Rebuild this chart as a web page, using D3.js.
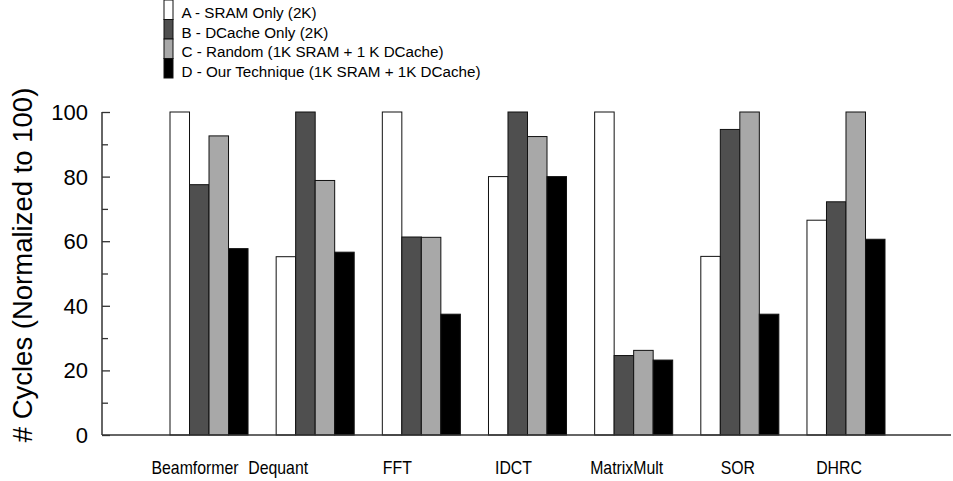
<!DOCTYPE html>
<html>
<head>
<meta charset="utf-8">
<script src="https://cdn.jsdelivr.net/npm/d3@7"></script>
<style>
  html, body { margin: 0; padding: 0; background: #fff; }
  svg { display: block; font-family: "Liberation Sans", Arial, sans-serif; }
</style>
</head>
<body>
<svg id="chart" width="953" height="481"></svg>
<script>
// ---- data ----
const categories = ["Beamformer", "Dequant", "FFT", "IDCT", "MatrixMult", "SOR", "DHRC"];
const seriesNames = [
  "A - SRAM Only (2K)",
  "B - DCache Only (2K)",
  "C - Random (1K SRAM + 1 K DCache)",
  "D - Our Technique (1K SRAM + 1K DCache)"
];
const seriesA = [100, 55.2, 100, 80.0, 100, 55.3, 66.5];
const seriesB = [77.5, 100, 61.3, 100, 24.6, 94.6, 72.2];
const seriesC = [92.6, 78.8, 61.2, 92.4, 26.2, 100, 100];
const seriesD = [57.7, 56.6, 37.4, 80.0, 23.2, 37.4, 60.6];
const yTicks = [0, 20, 40, 60, 80, 100];
const yMinorTicks = [10, 30, 50, 70, 90];

// ---- layout / style ----
const colors = ["#ffffff", "#4f4f4f", "#a8a8a8", "#000000"];
const labelOffsets = [-14, -37, -24, -14, -7, -2, -7];
const axisX = 102, axisRight = 951;
const yTop = 112, yBottom = 435;

const svg = d3.select("#chart");
const allSeries = [seriesA, seriesB, seriesC, seriesD];

const x = d3.scaleBand().domain(categories).range([170, 885]).paddingInner(0.265).paddingOuter(0);
const xs = d3.scaleBand().domain(d3.range(4)).range([0, x.bandwidth()]).padding(0);
const y = d3.scaleLinear().domain([0, 100]).range([yBottom, yTop]);

// bars
const g = svg.append("g");
categories.forEach((c, i) => {
  allSeries.forEach((s, j) => {
    g.append("rect")
      .attr("x", x(c) + xs(j))
      .attr("y", y(s[i]))
      .attr("width", xs.bandwidth())
      .attr("height", y(0) - y(s[i]))
      .attr("fill", colors[j])
      .attr("stroke", "#111")
      .attr("stroke-width", 1);
  });
});

// y axis
const yAxis = d3.axisRight(y).tickValues(yTicks).tickSize(8).tickFormat("");
const ya = svg.append("g").attr("transform", `translate(${axisX},0)`).call(yAxis);
ya.select(".domain").remove();
ya.selectAll(".tick line").attr("stroke", "#333").attr("stroke-width", 1.3);
const yMinor = d3.axisRight(y).tickValues(yMinorTicks).tickSize(6).tickFormat("");
const ym = svg.append("g").attr("transform", `translate(${axisX},0)`).call(yMinor);
ym.select(".domain").remove();
ym.selectAll(".tick line").attr("stroke", "#333").attr("stroke-width", 1.3);

svg.append("line").attr("x1", axisX).attr("x2", axisX).attr("y1", y(100)).attr("y2", y(0))
  .attr("stroke", "#333").attr("stroke-width", 1.5);
svg.append("line").attr("x1", axisX).attr("x2", axisRight).attr("y1", y(0)).attr("y2", y(0))
  .attr("stroke", "#333").attr("stroke-width", 1.5);

// tick labels
svg.append("g").selectAll("text").data(yTicks).join("text")
  .attr("x", 88).attr("y", d => y(d)).attr("dy", "0.36em")
  .attr("text-anchor", "end")
  .attr("font-size", 22).attr("fill", "#000")
  .text(d => d);

// y title
svg.append("text")
  .attr("transform", `translate(32,265) rotate(-90)`)
  .attr("text-anchor", "middle")
  .attr("font-size", 27.5).attr("fill", "#000")
  .text("# Cycles (Normalized to 100)");

// x labels
svg.append("g").selectAll("text").data(categories).join("text")
  .attr("transform", (d, i) => `translate(${x(d) + x.bandwidth() / 2 + labelOffsets[i]},474) scale(0.88,1)`)
  .attr("text-anchor", "middle")
  .attr("font-size", 18).attr("fill", "#000")
  .text(d => d);

// legend
const legend = svg.append("g");
seriesNames.forEach((n, j) => {
  legend.append("rect")
    .attr("x", 164).attr("y", j * 19.5)
    .attr("width", 9).attr("height", 19.5)
    .attr("fill", colors[j]).attr("stroke", "#111").attr("stroke-width", 1);
  legend.append("text")
    .attr("x", 181.5).attr("y", 18.3 + j * 19.4)
    .attr("font-size", 15.2).attr("fill", "#000")
    .text(n);
});
</script>
</body>
</html>
